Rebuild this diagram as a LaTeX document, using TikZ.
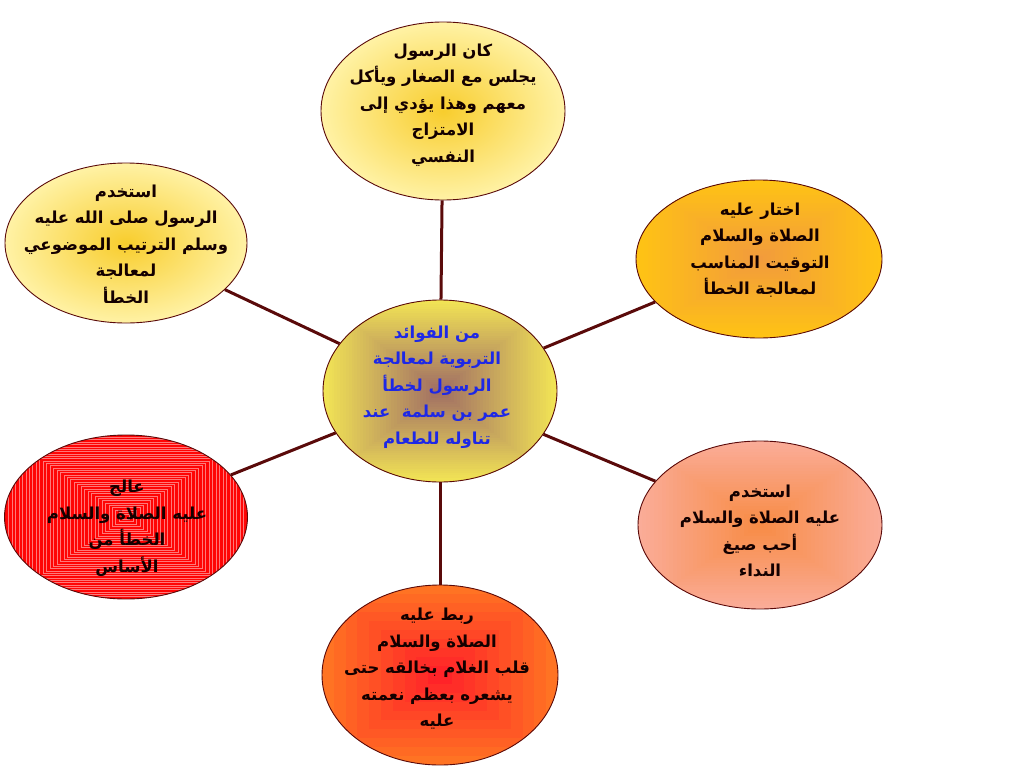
\documentclass[tikz,border=0pt]{standalone}
\usepackage{fontspec}
\usetikzlibrary{shapes.geometric}
\TeXXeTstate=1
\newfontfamily\arabicfont[Script=Arabic]{DejaVu Sans}
\newcommand\arl[1]{\beginR #1\endR}
\definecolor{linkcol}{RGB}{90,10,10}
\definecolor{txtblue}{RGB}{30,40,230}
\definecolor{txtdark}{RGB}{20,0,0}
\definecolor{ylin}{RGB}{248,205,45}
\definecolor{ylout}{RGB}{255,242,165}
\definecolor{goout}{RGB}{255,195,20}
\definecolor{goin}{RGB}{242,155,60}
\definecolor{ceout}{RGB}{242,228,85}
\definecolor{cein}{RGB}{160,110,100}
\definecolor{pkout}{RGB}{250,172,152}
\definecolor{pkin}{RGB}{248,140,70}
\definecolor{orout}{RGB}{255,115,35}
\definecolor{orin}{RGB}{255,35,40}
\definecolor{rdbase}{RGB}{255,5,5}
\definecolor{rdline}{RGB}{255,120,120}
\tikzset{
  bubble/.style={ellipse, draw=linkcol, line width=0.9pt, inner sep=0pt},
  btext/.style={align=center, inner sep=0pt,
    font=\arabicfont\bfseries\fontsize{16.5}{26.5}\selectfont, text=txtdark},
  link/.style={draw=linkcol, line width=3pt},
  radgrad/.style 2 args={shading=radial, inner color=#2, outer color=#1},
  rectgrad/.style n args={5}{path picture={
    \foreach \i in {0,...,#5}{
      \pgfmathsetmacro\t{1-\i/(#5+1)}
      \pgfmathtruncatemacro\p{100*\i/#5}
      \fill[#2!\p!#1, shift={(path picture bounding box.center)}]
        (-\t*#3,-\t*#4) rectangle (\t*#3,\t*#4);
    }}},
  stripes/.style n args={2}{path picture={
    \fill[rdbase] (path picture bounding box.south west) rectangle (path picture bounding box.north east);
    \foreach \i in {1,...,34}{
      \pgfmathsetmacro\t{1-\i/35}
      \draw[rdline, line width=0.4pt, shift={(path picture bounding box.center)}]
        (-\t*#1,-\t*#2) rectangle (\t*#1,\t*#2);
    }}},
}
\begin{document}
\begin{tikzpicture}[x=1pt,y=-1pt]
\useasboundingbox[fill=white] (0,0) rectangle (1024,768);

% ellipses
\node[bubble, minimum width=244pt, minimum height=178pt, radgrad={ylout}{ylin}] (top) at (443,111) {};
\node[bubble, minimum width=242pt, minimum height=160pt, radgrad={ylout}{ylin}] (tl) at (126,243) {};
\node[bubble, minimum width=246pt, minimum height=158pt, rectgrad={goout}{goin}{123}{79}{30}] (tr) at (759,259) {};
\node[bubble, minimum width=234pt, minimum height=182pt, rectgrad={ceout}{cein}{117}{91}{40}] (ce) at (440,391) {};
\node[bubble, minimum width=243pt, minimum height=164pt, stripes={121}{82}] (bl) at (126,517) {};
\node[bubble, minimum width=244pt, minimum height=168pt, rectgrad={pkout}{pkin}{122}{84}{30}] (br) at (760,525) {};
\node[bubble, minimum width=236pt, minimum height=180pt, rectgrad={orout}{orin}{118}{90}{9}] (bo) at (440,675) {};

% connectors
\draw[link] (top) -- (ce);
\draw[link] (tl) -- (ce);
\draw[link] (tr) -- (ce);
\draw[link] (bl) -- (ce);
\draw[link] (br) -- (ce);
\draw[link] (bo) -- (ce);

% texts
\node[btext] (topT) at (443,105) {\arl{كان الرسول}\\ \arl{يجلس مع الصغار ويأكل}\\ \arl{معهم وهذا يؤدي إلى}\\ \arl{الامتزاج}\\ \arl{النفسي}};
\node[btext] (tlT) at (126,244) {\arl{استخدم}\\ \arl{الرسول صلى الله عليه}\\ \arl{وسلم الترتيب الموضوعي}\\ \arl{لمعالجة}\\ \arl{الخطأ}};
\node[btext] (trT) at (760,250) {\arl{اختار عليه}\\ \arl{الصلاة والسلام}\\ \arl{التوقيت المناسب}\\ \arl{لمعالجة الخطأ}};
\node[btext, text=txtblue] (ceT) at (437,387) {\arl{من الفوائد}\\ \arl{التربوية لمعالجة}\\ \arl{الرسول لخطأ}\\ \arl{عمر بن سلمة\ \ عند}\\ \arl{تناوله للطعام}};
\node[btext] (blT) at (127,528) {\arl{عالج}\\ \arl{عليه الصلاة والسلام}\\ \arl{الخطأ من}\\ \arl{الأساس}};
\node[btext] (brT) at (760,531) {\arl{استخدم}\\ \arl{عليه الصلاة والسلام}\\ \arl{أحب صيغ}\\ \arl{النداء}};
\node[btext] (boT) at (437,669) {\arl{ربط عليه}\\ \arl{الصلاة والسلام}\\ \arl{قلب الغلام بخالقه حتى}\\ \arl{يشعره بعظم نعمته}\\ \arl{عليه}};
\end{tikzpicture}
\end{document}
